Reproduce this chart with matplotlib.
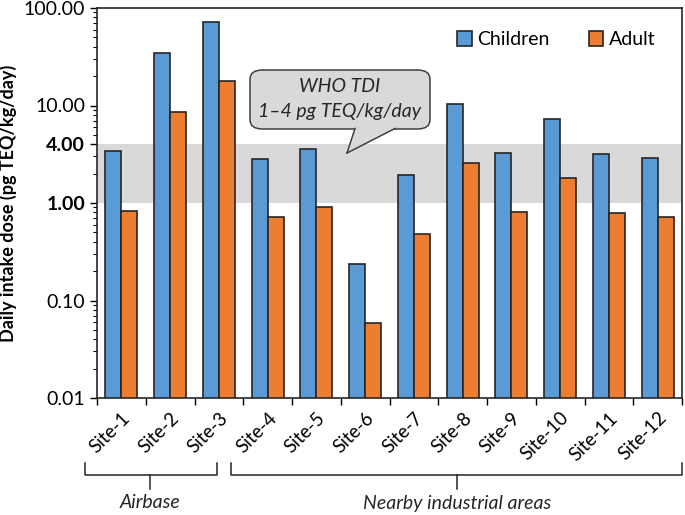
import numpy as np
import matplotlib
matplotlib.use('Agg')
import matplotlib.pyplot as plt
from matplotlib.patches import FancyBboxPatch, Polygon
from matplotlib.lines import Line2D
from matplotlib.ticker import FixedLocator, LogLocator, NullFormatter

plt.rcParams['font.family'] = ['Lato', 'DejaVu Sans']

# data
sites = ['Site-1', 'Site-2', 'Site-3', 'Site-4', 'Site-5', 'Site-6',
         'Site-7', 'Site-8', 'Site-9', 'Site-10', 'Site-11', 'Site-12']
children = [3.44, 34.3, 72.4, 2.85, 3.58, 0.237, 1.94, 10.3, 3.28, 7.3, 3.18, 2.87]
adult = [0.83, 8.5, 18.0, 0.72, 0.91, 0.059, 0.48, 2.55, 0.81, 1.82, 0.79, 0.72]
tdi_low, tdi_high = 1.0, 4.0
yticks = [0.01, 0.1, 1, 4, 10, 100]
groups = ['Airbase', 'Nearby industrial areas']

W, H = 685, 515
fig = plt.figure(figsize=(W / 100, H / 100), dpi=100)
ax = fig.add_axes([97 / W, 1 - 398 / H, (682 - 97) / W, (398 - 8) / H])

blue, orange = '#5B9BD5', '#ED7D31'
x = np.arange(len(sites))
bw = 0.33
ax.axhspan(tdi_low, tdi_high, color='#D9D9D9', lw=0, zorder=0)
ax.bar(x - bw / 2, children, bw, color=blue, edgecolor='#262626', lw=1.2,
       label='Children', zorder=2)
ax.bar(x + bw / 2, adult, bw, color=orange, edgecolor='#262626', lw=1.2,
       label='Adult', zorder=2)

ax.set_yscale('log')
ax.set_ylim(0.01, 100)
ax.set_xlim(-0.5, len(sites) - 0.5)
ax.yaxis.set_major_locator(FixedLocator(yticks))
ax.set_yticklabels(['%.2f' % v for v in yticks])
ax.yaxis.set_minor_locator(LogLocator(base=10, subs=np.arange(2, 10)))
ax.yaxis.set_minor_formatter(NullFormatter())
for lab, v in zip(ax.get_yticklabels(), yticks):
    if v in (1, 4):
        lab.set_fontweight('bold')
ax.tick_params(axis='y', which='major', length=5, labelsize=14, width=1)
ax.tick_params(axis='y', which='minor', length=3, width=0.8)

ax.set_xticks(np.arange(len(sites) + 1) - 0.5, minor=True)
ax.set_xticks(x)
ax.set_xticklabels(sites, rotation=45, ha='right', rotation_mode='anchor',
                   fontsize=13.5)
ax.tick_params(axis='x', which='major', length=0, pad=8)
ax.tick_params(axis='x', which='minor', length=5, width=1)
for s in ax.spines.values():
    s.set_linewidth(1.2)
    s.set_color('#262626')

ax.set_ylabel('Daily intake dose (pg TEQ/kg/day)', fontsize=13,
              fontweight='bold', labelpad=5)

ax.legend(loc='upper right', ncol=2, frameon=False, fontsize=14,
          handlelength=0.75, handleheight=0.75, handletextpad=0.3,
          columnspacing=2.0, bbox_to_anchor=(0.985, 0.985))


def px(xp, yp):
    return (xp / W, 1 - yp / H)


# callout box
box = FancyBboxPatch(px(250, 129), 180 / W, 59 / H,
                     boxstyle='round,pad=0,rounding_size=0.018',
                     transform=fig.transFigure, fc='#D9D9D9', ec='#404040',
                     lw=1.1, zorder=5)
fig.add_artist(box)
tail = Polygon([px(355, 128), px(347, 153), px(395, 128)], closed=True,
               transform=fig.transFigure, fc='#D9D9D9', ec='none', zorder=6)
fig.add_artist(tail)
for a, b in [((355, 128.5), (347, 153)), ((347, 153), (395, 128.5))]:
    fig.add_artist(Line2D([a[0] / W, b[0] / W], [1 - a[1] / H, 1 - b[1] / H],
                          transform=fig.transFigure, color='#404040',
                          lw=1.1, zorder=7))
fig.text(*px(340, 87), 'WHO TDI', ha='center', va='center', style='italic',
         fontsize=14, color='#262626', zorder=8)
fig.text(*px(340, 112), '1\u20134 pg TEQ/kg/day', ha='center', va='center',
         style='italic', fontsize=14, color='#262626', zorder=8)

# group brackets below the axis
brackets = [(85, 217, 150), (231, 682, 457)]
for (x0, x1, xm), name in zip(brackets, groups):
    xs = [x0, x0, x1, x1]
    ys = [463, 475, 475, 463]
    fig.add_artist(Line2D([v / W for v in xs], [1 - v / H for v in ys],
                          transform=fig.transFigure, color='#262626', lw=1.1))
    fig.add_artist(Line2D([xm / W, xm / W], [1 - 475 / H, 1 - 489 / H],
                          transform=fig.transFigure, color='#262626', lw=1.1))
    fig.text(*px(xm, 503), name, ha='center', va='center', style='italic',
             fontsize=14, color='#262626')

fig.savefig('out.png', dpi=100)
